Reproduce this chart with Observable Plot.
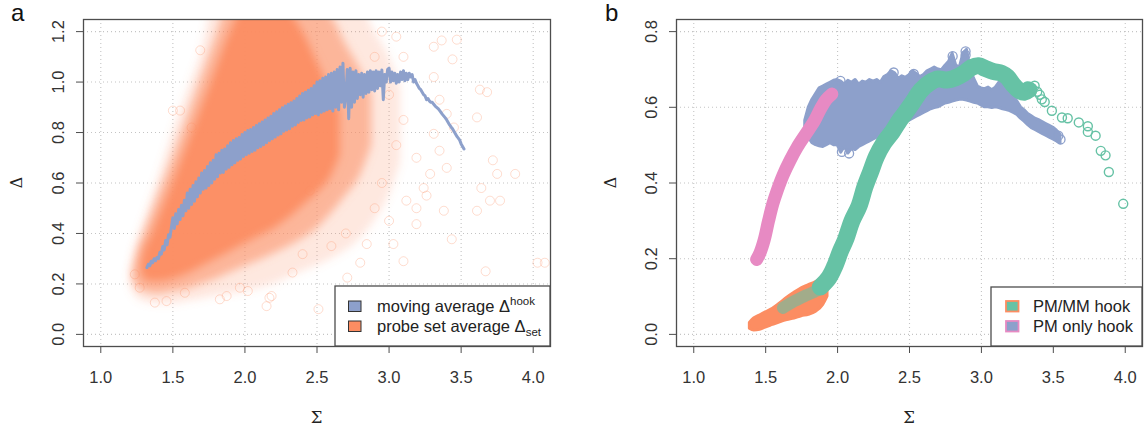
<!DOCTYPE html>
<html><head><meta charset="utf-8">
<script src="https://cdn.jsdelivr.net/npm/d3@7"></script>
<script src="https://cdn.jsdelivr.net/npm/@observablehq/plot@0.6"></script>
<style>
html,body{margin:0;padding:0;background:#fff;}
#wrap{position:relative;width:1145px;height:430px;overflow:hidden;font-family:"Liberation Sans",Arial,sans-serif;}
.panel{position:absolute;top:0;}
#overlay{position:absolute;left:0;top:0;}
</style></head>
<body><div id="wrap"><div class="panel" id="pa" style="left:0"></div><div class="panel" id="pb" style="left:572px"></div></div>
<script>
// ---------- shared ticks ----------
const sigmaTicks = [1.0, 1.5, 2.0, 2.5, 3.0, 3.5, 4.0];
const deltaTicksA = [0.0, 0.2, 0.4, 0.6, 0.8, 1.0, 1.2];
const deltaTicksB = [0.0, 0.2, 0.4, 0.6, 0.8];
const legendA = ["moving average Δ", "probe set average Δ"];
const legendB = ["PM/MM hook", "PM only hook"];

// ---------- panel a: probe-set cloud (density envelopes) ----------
const faintSigma = [1.20,1.22,1.30,1.40,1.50,1.60,1.70,1.78,2.00,2.20,2.40,2.60,2.80,2.90,3.00,3.08];
const faintLow   = [0.22,0.17,0.13,0.12,0.12,0.13,0.14,0.15,0.17,0.20,0.25,0.30,0.38,0.45,0.55,0.68];
const faintHigh  = [0.24,0.30,0.45,0.62,0.80,0.96,1.12,1.30,1.32,1.32,1.32,1.32,1.30,1.20,1.10,0.98];
const midSigma = [1.22,1.25,1.30,1.40,1.50,1.60,1.70,1.80,1.88,2.00,2.20,2.40,2.50,2.60,2.70,2.80,2.88];
const midLow   = [0.22,0.19,0.17,0.16,0.17,0.18,0.20,0.22,0.24,0.27,0.32,0.38,0.42,0.48,0.55,0.63,0.75];
const midHigh  = [0.25,0.32,0.40,0.55,0.70,0.86,1.02,1.18,1.30,1.32,1.32,1.32,1.30,1.26,1.15,1.05,0.95];
const coreSigma = [1.28,1.30,1.35,1.40,1.50,1.60,1.70,1.80,1.90,2.00,2.10,2.20,2.30,2.40,2.50,2.60,2.66];
const coreLow   = [0.25,0.22,0.21,0.21,0.22,0.24,0.27,0.30,0.33,0.36,0.39,0.42,0.46,0.51,0.56,0.63,0.71];
const coreHigh  = [0.28,0.33,0.39,0.46,0.60,0.75,0.90,1.05,1.20,1.30,1.30,1.30,1.28,1.20,1.08,0.96,0.88];
// sparse outlying probe sets
const outSigma = [1.375,1.456,1.583,1.826,1.873,2.02,2.15,2.185,1.236,1.27,1.965,2.17,2.40,2.33,2.51,2.71,2.80,2.845,3.03,3.10,3.19,3.435,3.67,4.03,4.08,2.45,3.26,3.44,3.61,3.63,3.68,3.72,3.875,3.75,3.64,3.70,3.77,3.61,3.38,3.365,3.47,3.31,3.31,3.35,3.40,3.45,3.31,3.35,3.40,3.285,3.19,3.24,3.12,3.19,1.69,1.55,1.63,1.50,2.95,3.05,3.10,2.90,3.00,3.10,3.05,2.95,2.90,3.00,2.70,2.60];
const outDelta = [0.126,0.132,0.165,0.139,0.152,0.172,0.112,0.152,0.238,0.185,0.185,0.145,0.318,0.245,0.10,0.225,0.284,0.358,0.358,0.29,0.437,0.377,0.25,0.284,0.284,0.57,0.55,1.09,0.86,0.97,0.96,0.69,0.636,0.636,0.58,0.53,0.53,0.49,0.49,1.165,1.168,1.14,1.02,0.93,0.874,0.82,0.795,0.728,0.66,0.636,0.70,0.58,0.53,0.50,1.126,0.887,0.82,0.887,1.20,1.18,1.10,1.10,0.95,0.85,0.75,0.60,0.50,0.45,0.40,0.35];
// moving average Δhook, sampled every 0.01 in Σ starting at 1.32
const maStart = 1.32, maStep = 0.01;
const maDelta = [
 .265,.278,.272,.290,.284,.300,.292,.305,
 .300,.325,.318,.348,.335,.372,.355,.395,.385,.425,
 .462,.420,.478,.438,.495,.455,.512,.470,.532,.490,
 .560,.500,.575,.515,.590,.528,.605,.545,.620,.560,
 .640,.575,.650,.580,.665,.590,.680,.600,.690,.615,
 .712,.625,.718,.640,.730,.642,.735,.655,.748,.662,
 .760,.672,.768,.680,.775,.690,.780,.695,.792,.705,
 .800,.712,.808,.718,.812,.725,.820,.730,.828,.740,
 .835,.745,.842,.752,.850,.760,.858,.768,.865,.775,
 .875,.782,.882,.790,.890,.795,.898,.805,.905,.810,
 .912,.815,.918,.825,.925,.830,.935,.840,.945,.848,
 .955,.850,.960,.858,.968,.862,.975,.870,.985,.875,
 1.000,.870,1.005,.880,1.015,.885,1.020,.890,1.030,.895,
 1.035,.885,1.040,.900,1.050,.890,1.060,.920,1.075,.900,
 .940,1.050,.855,1.055,.900,1.040,.920,1.045,.935,1.030,
 .950,1.035,.940,1.030,.955,1.040,.960,1.045,.970,1.040,
 .965,1.045,.975,1.040,.985,1.048,.930,1.030,1.000,1.050,
 1.055,1.000,1.040,1.005,1.035,.995,1.030,1.000,1.040,1.010,
 1.045,1.005,1.035,1.010,1.035,1.020,1.030,1.000,1.010,.995,
 .985,.975,.970,.960,.950,.945,.930,.935,.925,.920,
 .920,.912,.905,.900,.895,.888,.880,.872,.865,.858,
 .850,.840,.830,.822,.815,.805,.795,.785,.778,.770,
 .755,.745,.735];

// ---------- panel b ----------
const pinkSigma = [1.437,1.46,1.49,1.52,1.55,1.58,1.62,1.67,1.72,1.78,1.84,1.88,1.92,1.96];
const pinkDelta = [0.198,0.215,0.25,0.30,0.345,0.38,0.42,0.46,0.495,0.53,0.565,0.595,0.62,0.635];
const blueSigma = [1.775,1.800,1.825,1.850,1.875,1.900,1.925,1.950,1.975,2.000,2.025,2.050,2.075,2.100,2.125,2.150,2.175,2.200,2.225,2.250,2.275,2.300,2.325,2.350,2.375,2.400,2.425,2.450,2.475,2.500,2.525,2.550,2.575,2.600,2.625,2.650,2.675,2.700,2.725,2.750,2.775,2.800,2.825,2.850,2.875,2.900,2.925,2.950,2.975,3.000,3.025,3.050,3.075,3.100,3.125,3.150,3.175,3.200,3.225,3.250,3.275,3.300,3.325,3.350,3.375,3.400,3.425,3.450,3.475,3.500,3.525,3.550];
const blueLow  = [.535,.520,.505,.500,.497,.495,.500,.505,.500,.500,.480,.495,.478,.490,.487,.495,.500,.505,.510,.515,.520,.525,.530,.535,.540,.545,.550,.555,.560,.565,.570,.575,.580,.585,.590,.595,.598,.600,.605,.610,.612,.615,.618,.620,.620,.618,.615,.612,.610,.605,.600,.600,.598,.600,.598,.595,.593,.590,.585,.580,.570,.562,.553,.545,.540,.535,.530,.525,.520,.515,.510,.505];
const blueHigh = [.565,.600,.620,.635,.650,.655,.660,.665,.670,.672,.668,.660,.670,.665,.672,.660,.668,.665,.672,.668,.672,.665,.680,.685,.695,.690,.675,.682,.678,.685,.695,.688,.680,.685,.695,.700,.705,.700,.698,.710,.720,.742,.710,.705,.742,.752,.700,.675,.655,.650,.648,.652,.645,.652,.665,.680,.690,.672,.630,.615,.600,.592,.582,.576,.570,.566,.561,.556,.551,.546,.538,.528];
const blueOpenSigma = [2.89,2.89,2.80,2.39,2.53,2.02,3.55,3.535,2.03,2.08];
const blueOpenDelta = [0.748,0.738,0.735,0.692,0.688,0.67,0.515,0.525,0.482,0.478];
const orangeSigma = [1.39,1.42,1.46,1.50,1.55,1.60,1.65,1.70,1.75,1.80,1.85,1.90,1.93];
const orangeLow   = [0.015,0.010,0.012,0.018,0.025,0.032,0.038,0.042,0.048,0.052,0.060,0.078,0.10];
const orangeHigh  = [0.030,0.042,0.050,0.058,0.068,0.082,0.097,0.110,0.122,0.130,0.138,0.150,0.155];
const greenMixSigma = [1.62,1.70,1.78,1.85,1.90];
const greenMixDelta = [0.07,0.088,0.103,0.115,0.13];
const greenSigma = [1.88,1.94,1.98,2.02,2.055,2.10,2.15,2.19,2.23,2.27,2.32,2.38,2.43,2.47,2.52,2.58,2.64,2.70,2.76,2.82,2.88,2.93,2.98,3.03,3.08,3.14,3.18,3.22,3.26,3.30,3.33];
const greenDelta = [0.125,0.15,0.18,0.22,0.25,0.30,0.34,0.39,0.43,0.47,0.505,0.535,0.565,0.585,0.612,0.645,0.665,0.675,0.672,0.678,0.69,0.705,0.71,0.702,0.695,0.69,0.68,0.66,0.645,0.64,0.646];
const greenTailSigma = [3.318,3.353,3.37,3.388,3.406,3.42,3.44,3.49,3.56,3.60,3.677,3.74,3.74,3.794,3.83,3.863,3.886,3.986];
const greenTailDelta = [0.655,0.65,0.657,0.641,0.633,0.621,0.614,0.591,0.573,0.571,0.56,0.55,0.535,0.525,0.485,0.473,0.429,0.345];

// ---------- colours ----------
const GREEN = "#66c2a5", ORANGE = "#fc8d62", BLUE = "#8da0cb", PINK = "#e78ac3";
const FRAME = "#4d4d4d", GRID = "#c4c4c4";
const fmt = d3.format(".1f");
const idx = a => d3.range(a.length);

const baseStyle = {fontFamily: "'Liberation Sans', Arial, sans-serif", fontSize: "16.5px", color: "#333", background: "transparent", overflow: "visible"};
function axes(yTicks) {
  return [
    Plot.frame({stroke: FRAME, strokeWidth: 1.3}),
    Plot.axisX(sigmaTicks, {tickFormat: fmt, tickSize: 7, tickPadding: 18, label: null, stroke: FRAME}),
    Plot.axisY(yTicks, {tickFormat: fmt, tickSize: 7, tickPadding: 13, tickRotate: -90, label: null, stroke: FRAME})
  ];
}
function grids(yTicks) {
  return [
    Plot.gridX(sigmaTicks, {stroke: GRID, strokeOpacity: 1, strokeWidth: 1.1, strokeDasharray: "1,3"}),
    Plot.gridY(yTicks, {stroke: GRID, strokeOpacity: 1, strokeWidth: 1.1, strokeDasharray: "1,3"})
  ];
}

const band = (xs, lo, hi, o) => Plot.areaY(idx(xs), {x: i => xs[i], y1: i => lo[i], y2: i => hi[i], curve: "monotone-x", ...o});

const plotA = Plot.plot({
  width: 572, height: 430, marginLeft: 83, marginRight: 22, marginTop: 19, marginBottom: 84,
  x: {domain: [0.88, 4.12]}, y: {domain: [-0.048, 1.248]},
  style: baseStyle,
  marks: [
    ...grids(deltaTicksA),
    band(faintSigma, faintLow, faintHigh, {fill: ORANGE, fillOpacity: 0.2}),
    band(midSigma, midLow, midHigh, {fill: ORANGE, fillOpacity: 0.55}),
    band(coreSigma, coreLow, coreHigh, {fill: ORANGE, fillOpacity: 0.95}),
    Plot.dot(idx(outSigma), {x: i => outSigma[i], y: i => outDelta[i], r: 4.5, stroke: ORANGE, strokeOpacity: 0.3, strokeWidth: 1, fill: "none"}),
    Plot.line(idx(maDelta), {x: i => maStart + maStep * i, y: i => maDelta[i], stroke: BLUE, strokeWidth: 3}),
    ...axes(deltaTicksA)
  ]
});

const plotB = Plot.plot({
  width: 573, height: 430, marginLeft: 104, marginRight: 3, marginTop: 19, marginBottom: 84,
  x: {domain: [0.88, 4.12]}, y: {domain: [-0.032, 0.832]},
  style: baseStyle,
  marks: [
    ...grids(deltaTicksB),
    band(blueSigma, blueLow, blueHigh, {fill: BLUE, stroke: BLUE, strokeWidth: 3, strokeLinejoin: "round", curve: "linear"}),
    Plot.dot(idx(blueOpenSigma), {x: i => blueOpenSigma[i], y: i => blueOpenDelta[i], r: 4.5, stroke: BLUE, strokeWidth: 1.3, fill: "none"}),
    Plot.line(idx(pinkSigma), {x: i => pinkSigma[i], y: i => pinkDelta[i], stroke: PINK, strokeWidth: 13, strokeLinecap: "round", strokeLinejoin: "round", curve: "catmull-rom"}),
    band(orangeSigma, orangeLow, orangeHigh, {fill: ORANGE, stroke: ORANGE, strokeWidth: 3, strokeLinejoin: "round"}),
    Plot.line(idx(greenMixSigma), {x: i => greenMixSigma[i], y: i => greenMixDelta[i], stroke: GREEN, strokeOpacity: 0.6, strokeWidth: 12, strokeLinecap: "round", curve: "catmull-rom"}),
    Plot.line(idx(greenSigma), {x: i => greenSigma[i], y: i => greenDelta[i], stroke: GREEN, strokeWidth: 17, strokeLinecap: "round", strokeLinejoin: "round", curve: "catmull-rom"}),
    Plot.dot(idx(greenTailSigma), {x: i => greenTailSigma[i], y: i => greenTailDelta[i], r: 4.5, stroke: GREEN, strokeWidth: 1.4, fill: "none"}),
    ...axes(deltaTicksB)
  ]
});

// soften the density envelopes of panel a and clip them to the plotting frame
(function soften(svg) {
  const [x0, x1] = svg.scale("x").range;
  const [yb, yt] = svg.scale("y").range;
  const defs = d3.select(svg).insert("defs", ":first-child");
  defs.append("clipPath").attr("id", "clipA").append("rect")
    .attr("x", x0).attr("y", Math.min(yb, yt)).attr("width", x1 - x0).attr("height", Math.abs(yb - yt));
  const f = defs.append("filter").attr("id", "blurA").attr("x", "-20%").attr("y", "-20%").attr("width", "140%").attr("height", "140%");
  f.append("feGaussianBlur").attr("stdDeviation", 4.5);
  d3.select(svg).selectAll('g[aria-label="area"]').attr("clip-path", "url(#clipA)")
    .selectAll("path").attr("filter", "url(#blurA)");
})(plotA);

document.getElementById("pa").appendChild(plotA);
document.getElementById("pb").appendChild(plotB);

// ---------- overlay: panel letters, axis titles, legends ----------
const ov = d3.select("#wrap").append("svg").attr("id", "overlay").attr("width", 1145).attr("height", 430)
  .style("font-family", "'Liberation Sans', Arial, sans-serif").style("pointer-events", "none");
ov.append("text").attr("x", 11).attr("y", 21).attr("font-size", 24).attr("fill", "#111").text("a");
ov.append("text").attr("x", 605).attr("y", 21).attr("font-size", 24).attr("fill", "#111").text("b");
for (const [cx, lx] of [[316.5, 22], [909, 615.5]]) {
  ov.append("text").attr("x", cx).attr("y", 422.5).attr("text-anchor", "middle").attr("font-size", 16.5)
    .attr("font-family", "'DejaVu Serif', 'Liberation Serif', serif").attr("fill", "#222").text("Σ");
  ov.append("text").attr("transform", `translate(${lx},182.5) rotate(-90)`).attr("text-anchor", "middle").attr("font-size", 16)
    .attr("font-family", "'DejaVu Serif', 'Liberation Serif', serif").attr("fill", "#222").text("Δ");
}
// legend a
ov.append("rect").attr("x", 335).attr("y", 286).attr("width", 215).attr("height", 60).attr("fill", "#fff").attr("stroke", FRAME).attr("stroke-width", 1.3);
ov.append("rect").attr("x", 348.5).attr("y", 301).attr("width", 12.5).attr("height", 10.5).attr("fill", BLUE).attr("stroke", "#333").attr("stroke-width", 1);
ov.append("rect").attr("x", 348.5).attr("y", 321).attr("width", 12.5).attr("height", 10.5).attr("fill", ORANGE).attr("stroke", "#333").attr("stroke-width", 1);
const t1 = ov.append("text").attr("x", 377).attr("y", 312).attr("font-size", 16.5).attr("fill", "#222");
t1.append("tspan").text(legendA[0]);
t1.append("tspan").attr("dy", -7).attr("font-size", 11.5).text("hook");
const t2 = ov.append("text").attr("x", 377).attr("y", 332).attr("font-size", 16.5).attr("fill", "#222");
t2.append("tspan").text(legendA[1]);
t2.append("tspan").attr("dy", 4).attr("font-size", 11.5).text("set");
// legend b
ov.append("rect").attr("x", 991).attr("y", 287).attr("width", 151).attr("height", 59).attr("fill", "#fff").attr("stroke", FRAME).attr("stroke-width", 1.3);
ov.append("rect").attr("x", 1006).attr("y", 301).attr("width", 12.5).attr("height", 10.5).attr("fill", GREEN).attr("stroke", ORANGE).attr("stroke-width", 1.8);
ov.append("rect").attr("x", 1006).attr("y", 321).attr("width", 12.5).attr("height", 10.5).attr("fill", BLUE).attr("stroke", PINK).attr("stroke-width", 1.8);
ov.append("text").attr("x", 1033).attr("y", 312).attr("font-size", 16.5).attr("fill", "#222").text(legendB[0]);
ov.append("text").attr("x", 1033).attr("y", 332).attr("font-size", 16.5).attr("fill", "#222").text(legendB[1]);
</script></body></html>
